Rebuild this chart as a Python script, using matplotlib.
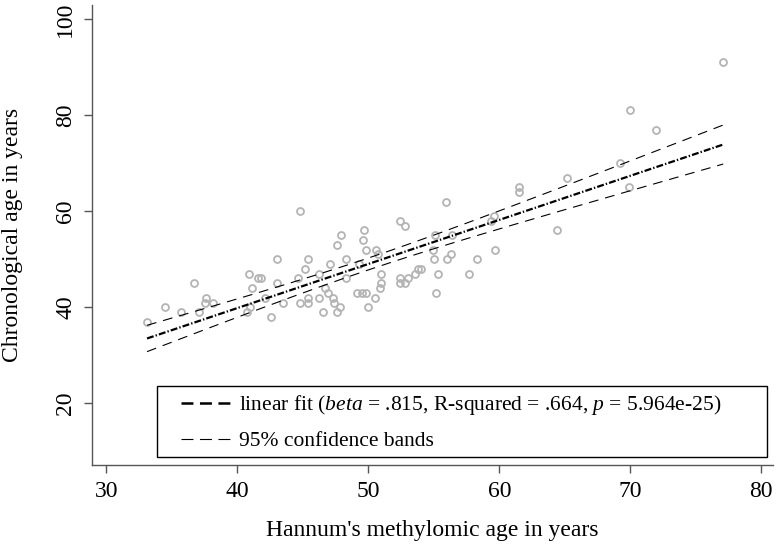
import numpy as np
import matplotlib
matplotlib.use("Agg")
import matplotlib.pyplot as plt
from matplotlib.lines import Line2D
from matplotlib.patches import Rectangle

plt.rcParams['font.family'] = ['Liberation Serif', 'DejaVu Serif']
plt.rcParams['mathtext.fontset'] = 'custom'
plt.rcParams['mathtext.rm'] = 'Liberation Serif'
plt.rcParams['mathtext.it'] = 'Liberation Serif:italic'
plt.rcParams['lines.scale_dashes'] = False

# Hannum's methylomic age (x) vs chronological age (y)
hannum_age = [33.1, 34.5, 35.7, 36.7, 37.1, 37.5, 37.6, 38.1, 40.9, 41.1,
              41.6, 40.7, 41.0, 42.6, 43.5, 44.8, 45.4, 46.5, 44.8, 55.9,
              52.4, 52.8, 47.9, 49.7, 47.6, 49.6, 49.8, 50.6, 50.7, 55.1,
              54.9, 55.0, 56.0, 43.0, 45.4, 45.2, 47.1, 48.3, 49.3, 46.2,
              48.3, 51.0, 53.8, 53.6, 55.3, 41.8, 44.6, 43.0, 42.1, 45.4,
              46.2, 46.7, 46.9, 47.3, 47.4, 47.8, 47.6, 49.1, 49.5, 49.8,
              50.5, 50.0, 50.9, 51.0, 52.4, 52.4, 52.8, 53.0, 55.2, 69.2,
              65.2, 61.5, 61.5, 59.6, 59.4, 64.4, 56.4, 59.7, 54.0, 56.3,
              58.3, 57.7, 77.1, 70.0, 72.0, 69.9]
chrono_age = [37, 40, 39, 45, 39, 41, 42, 41, 47, 44,
              46, 39, 40, 38, 41, 41, 41, 39, 60, 62,
              58, 57, 55, 56, 53, 54, 52, 52, 51, 55,
              52, 50, 50, 50, 50, 48, 49, 50, 49, 47,
              46, 47, 48, 47, 47, 46, 46, 45, 42, 42,
              42, 44, 43, 42, 41, 40, 39, 43, 43, 43,
              42, 40, 44, 45, 46, 45, 45, 46, 43, 70,
              67, 65, 64, 59, 58, 56, 55, 52, 48, 51,
              50, 47, 91, 81, 77, 65]

fit_label = r"linear fit ($\mathit{beta}$ = .815, R-squared = .664, $\mathit{p}$ = 5.964e-25)"
ci_label = "95% confidence bands"

x = np.array(hannum_age)
y = np.array(chrono_age)

# least squares fit and 95% CI of the mean prediction
slope, intercept = np.polyfit(x, y, 1)
n = len(x)
resid = y - (intercept + slope * x)
s = np.sqrt(np.sum(resid ** 2) / (n - 2))
xx = np.linspace(x.min(), x.max(), 200)
yy = intercept + slope * xx
se = s * np.sqrt(1.0 / n + (xx - x.mean()) ** 2 / np.sum((x - x.mean()) ** 2))
tval = 1.988
lo = yy - tval * se
hi = yy + tval * se

W, H = 776, 558
fig = plt.figure(figsize=(W / 100, H / 100), dpi=100)
ax = fig.add_axes([0.1186, 0.1667, 0.8775, 0.8243])

ax.plot(x, y, 'o', ms=5.0, mfc='none', mec='#b4b4b4', mew=1.3, zorder=2)
ax.plot(xx, lo, color='black', lw=0.8, dashes=(7, 5), zorder=3)
ax.plot(xx, hi, color='black', lw=0.8, dashes=(7, 5), zorder=3)
ax.plot(xx, yy, color='black', lw=1.6, dashes=(5, 1.5, 1, 1.5), zorder=4)

ax.set_xlim(28.9, 80.9)
ax.set_ylim(7.2, 102.9)
ax.set_xticks([30, 40, 50, 60, 70, 80])
ax.set_yticks([20, 40, 60, 80, 100])

for side in ['top', 'right']:
    ax.spines[side].set_visible(False)
for side in ['left', 'bottom']:
    ax.spines[side].set_color('#555555')
    ax.spines[side].set_linewidth(1.0)
ax.tick_params(axis='both', length=5.5, width=1.0, color='#555555',
               labelsize=17, pad=6)
plt.setp(ax.get_yticklabels(), rotation=90, va='center')

ax.set_xlabel("Hannum's methylomic age in years", fontsize=17)
ax.set_ylabel("Chronological age in years", fontsize=17)
ax.xaxis.set_label_coords(0.5, -0.12)
ax.yaxis.set_label_coords(-0.102, 0.5)

# legend box, laid out in figure pixels
def fx(px):
    return px / W

def fy(py):
    return 1 - py / H

fig.patches.append(Rectangle((fx(157), fy(457)), fx(767) - fx(157), fy(386) - fy(457),
                             transform=fig.transFigure, fill=False,
                             edgecolor='black', lw=1.0, zorder=5))
fig.lines.append(Line2D([fx(181), fx(230)], [fy(403), fy(403)],
                        transform=fig.transFigure, color='black', lw=1.8,
                        dashes=(8.6, 4.7)))
fig.lines.append(Line2D([fx(181), fx(230)], [fy(439), fy(439)],
                        transform=fig.transFigure, color='black', lw=0.8,
                        dashes=(8.6, 4.7)))
fig.text(fx(239), fy(410), fit_label, fontsize=15.5, va='baseline', ha='left')
fig.text(fx(239), fy(446), ci_label, fontsize=15.5, va='baseline', ha='left')

fig.savefig('out.png', dpi=100)
